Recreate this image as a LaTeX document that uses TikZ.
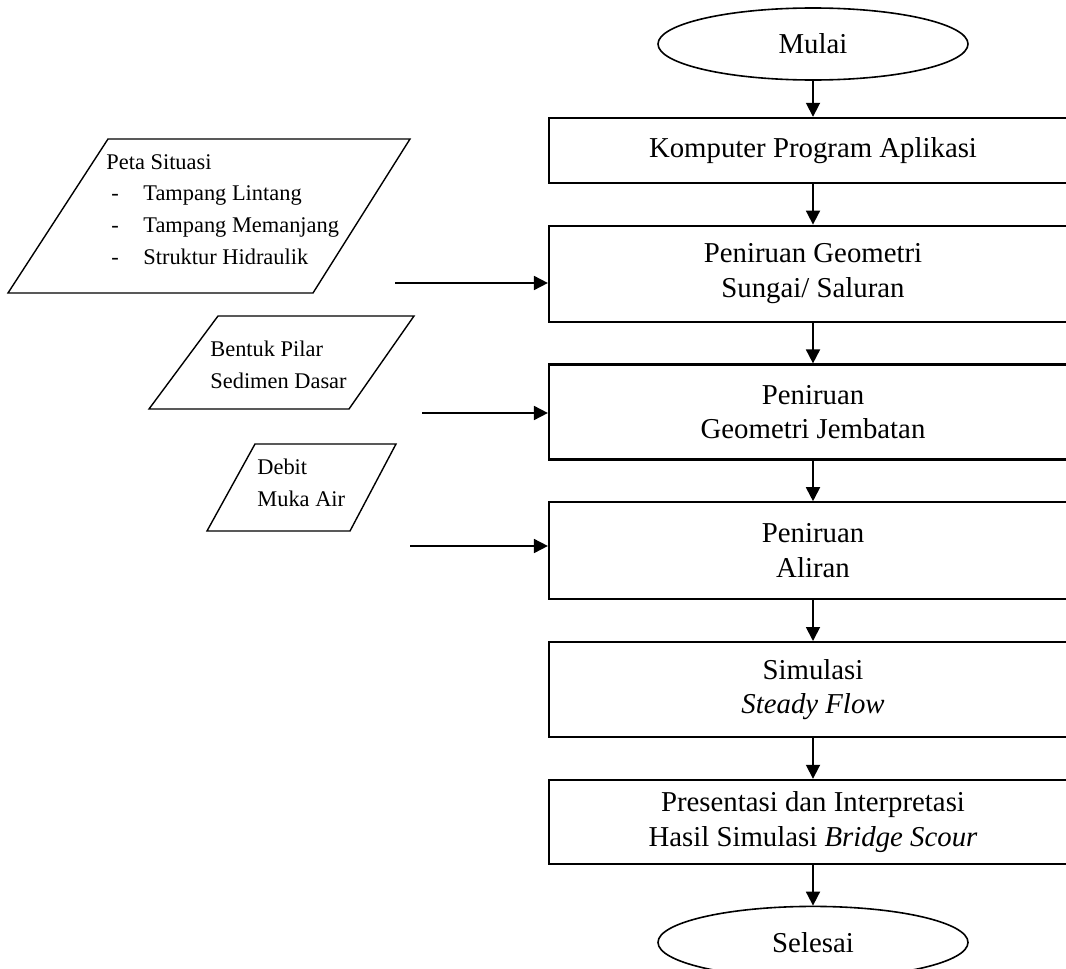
\documentclass[tikz,border=0pt]{standalone}
\usepackage{fontspec}
\setmainfont{Liberation Serif}
\usetikzlibrary{positioning, arrows.meta, shapes.geometric}

\begin{document}
\begin{tikzpicture}[
        x=0.5pt, y=-0.5pt,
        node distance=20.3pt,
        process/.style={
            rectangle,
            draw,
            line width=1.1pt,
            align=center,
            minimum width=264pt,
            inner sep=0pt,
            font=\fontsize{14.4}{17.3}\selectfont
        },
        terminal/.style={
            ellipse,
            draw,
            line width=0.8pt,
            minimum width=155pt,
            minimum height=36pt,
            inner sep=0pt,
            font=\fontsize{14.4}{17.3}\selectfont
        },
        datain/.style={
            draw,
            line width=0.7pt
        },
        datatext/.style={
            align=left,
            inner sep=0pt,
            anchor=north west,
            font=\fontsize{11.2}{15.8}\selectfont
        },
        arrow/.style={
            -{Triangle[length=7pt, width=7pt]},
            line width=0.9pt
        }
    ]

        \useasboundingbox (0,0) rectangle (1066,969);
        \clip (0,0) rectangle (1066,969);

        % main flow
        \node[terminal] (mulai) at (813,44) {Mulai};
        \node[process, minimum height=32.5pt, below=18pt of mulai] (komputer) {Komputer Program Aplikasi};
        \node[process, minimum height=48pt, below=of komputer] (sungai) {Peniruan Geometri\\Sungai/ Saluran};
        \node[process, minimum height=47.5pt, below=of sungai] (jembatan) {Peniruan\\Geometri Jembatan};
        \node[process, minimum height=48.5pt, below=of jembatan] (aliran) {Peniruan\\Aliran};
        \node[process, minimum height=47.5pt, below=of aliran] (simulasi) {Simulasi\\\textit{Steady Flow}};
        \node[process, minimum height=42pt, below=of simulasi] (hasil) {Presentasi dan Interpretasi\\Hasil Simulasi \textit{Bridge Scour}};
        \node[terminal, below=of hasil] (selesai) {Selesai};

        \draw[arrow] (mulai) -- (komputer);
        \draw[arrow] (komputer) -- (sungai);
        \draw[arrow] (sungai) -- (jembatan);
        \draw[arrow] (jembatan) -- (aliran);
        \draw[arrow] (aliran) -- (simulasi);
        \draw[arrow] (simulasi) -- (hasil);
        \draw[arrow] (hasil) -- (selesai);

        % input data
        \draw[datain] (108,139) -- (410,139) -- (313,293) -- (8,293) -- cycle;
        \node[datatext] (peta) at (106,154) {Peta Situasi\\
            \hspace{2.5pt}\makebox[16pt][l]{-}Tampang Lintang\\
            \hspace{2.5pt}\makebox[16pt][l]{-}Tampang Memanjang\\
            \hspace{2.5pt}\makebox[16pt][l]{-}Struktur Hidraulik};

        \draw[datain] (218,316) -- (414,316) -- (349,409) -- (149,409) -- cycle;
        \node[datatext] (pilar) at (210,341) {Bentuk Pilar\\Sedimen Dasar};

        \draw[datain] (255,444) -- (396,444) -- (350,531) -- (207,531) -- cycle;
        \node[datatext] (debit) at (257,459) {Debit\\Muka Air};

        \coordinate (in1) at (395,283);
        \coordinate (in2) at (422,413);
        \coordinate (in3) at (410,546);
        \draw[arrow] (in1) -- (in1 -| sungai.west);
        \draw[arrow] (in2) -- (in2 -| jembatan.west);
        \draw[arrow] (in3) -- (in3 -| aliran.west);

    \end{tikzpicture}
\end{document}
